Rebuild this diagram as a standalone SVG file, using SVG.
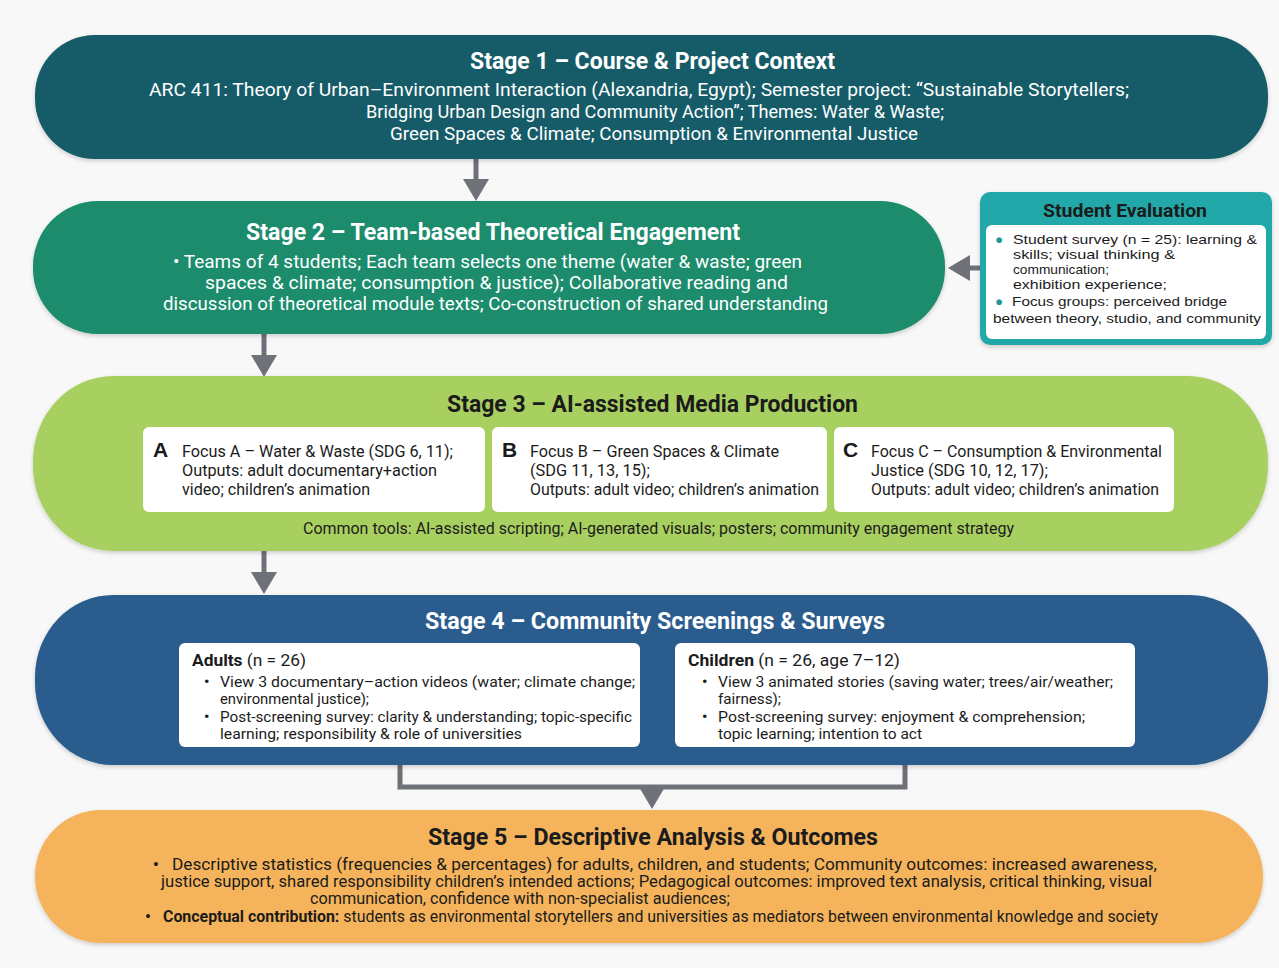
<svg xmlns="http://www.w3.org/2000/svg" width="1279" height="968" viewBox="0 0 1279 968">
  <defs>
    <style>
      .t { font-family: Roboto, "Liberation Sans", sans-serif; }
      .title { font-family: Roboto, "Liberation Sans", sans-serif; font-weight: 700; font-size: 23px; }
      .w { fill: #ffffff; }
      .d { fill: #1b1b1b; }
      .b1 { font-size: 19px; }
      .b2 { font-size: 19px; }
      .bx { font-size: 16px; }
      .b4 { font-size: 15px; }
      .b5 { font-size: 16px; }
      .ev { font-family: "Liberation Sans", Arial, sans-serif; font-size: 13.5px; fill: #1b1b1b; }
      .evb { font-family: "Liberation Sans", Arial, sans-serif; font-size: 13.5px; fill: #1f9a96; }
      .card { fill: #ffffff; }
      .conn { stroke: #6f7178; stroke-width: 5; fill: none; }
      .letter { font-family: "Liberation Sans", Arial, sans-serif; font-weight: 700; font-size: 21px; fill: #1b1b1b; }
    </style>
    <filter id="shadow" x="-5%" y="-10%" width="110%" height="130%">
      <feDropShadow dx="0" dy="2" stdDeviation="2" flood-color="#000" flood-opacity="0.18"/>
    </filter>
    <marker id="head" viewBox="0 0 22 26" refX="12" refY="13" markerWidth="22" markerHeight="26" markerUnits="userSpaceOnUse" orient="auto">
      <path d="M0,0 L22,13 L0,26 Z" fill="#6f7178"/>
    </marker>
  </defs>

  <rect width="1279" height="968" fill="#f8f8f8"/>

  <!-- connectors -->
  <g id="connectors">
    <line class="conn" x1="476" y1="159" x2="476" y2="191" marker-end="url(#head)"/>
    <line class="conn" x1="264" y1="334" x2="264" y2="367" marker-end="url(#head)"/>
    <line class="conn" x1="264" y1="551" x2="264" y2="584" marker-end="url(#head)"/>
    <line class="conn" x1="982" y1="268" x2="958" y2="268" marker-end="url(#head)"/>
    <path class="conn" d="M400,757 V787 H905 V757" stroke-width="4"/>
    <line class="conn" x1="652" y1="787" x2="652" y2="799" marker-end="url(#head)"/>
  </g>

  <!-- Stage 1 -->
  <g id="stage1">
    <rect x="35" y="35" width="1233" height="124" rx="60" ry="60" fill="#185c67" filter="url(#shadow)"/>
    <text class="title w" x="470" y="69" textLength="365" lengthAdjust="spacingAndGlyphs">Stage 1 – Course &amp; Project Context</text>
    <text class="t w b1" x="149" y="96" textLength="980" lengthAdjust="spacingAndGlyphs">ARC 411: Theory of Urban–Environment Interaction (Alexandria, Egypt); Semester project: “Sustainable Storytellers;</text>
    <text class="t w b1" x="366" y="118" textLength="578" lengthAdjust="spacingAndGlyphs">Bridging Urban Design and Community Action”; Themes: Water &amp; Waste;</text>
    <text class="t w b1" x="390" y="140" textLength="528" lengthAdjust="spacingAndGlyphs">Green Spaces &amp; Climate; Consumption &amp; Environmental Justice</text>
  </g>

  <!-- Stage 2 -->
  <g id="stage2">
    <rect x="33" y="201" width="912" height="133" rx="65" ry="65" fill="#1c8c6d" filter="url(#shadow)"/>
    <text class="title w" x="246" y="240" textLength="494" lengthAdjust="spacingAndGlyphs">Stage 2 – Team-based Theoretical Engagement</text>
    <text class="t w b2" x="173" y="268" textLength="629" lengthAdjust="spacingAndGlyphs">• Teams of 4 students; Each team selects one theme (water &amp; waste; green</text>
    <text class="t w b2" x="205" y="289" textLength="583" lengthAdjust="spacingAndGlyphs">spaces &amp; climate; consumption &amp; justice); Collaborative reading and</text>
    <text class="t w b2" x="163" y="310" textLength="665" lengthAdjust="spacingAndGlyphs">discussion of theoretical module texts; Co-construction of shared understanding</text>
  </g>

  <!-- Student Evaluation -->
  <g id="student-evaluation">
    <rect x="980" y="192" width="292" height="153" rx="10" ry="10" fill="#23a8a8" filter="url(#shadow)"/>
    <rect x="986" y="225" width="280" height="114" rx="6" ry="6" fill="#ffffff"/>
    <text class="title d" x="1043" y="217" style="font-size:19px" textLength="164" lengthAdjust="spacingAndGlyphs">Student Evaluation</text>
    <text class="evb" x="995" y="244">●</text>
    <text class="ev" x="1013" y="244" textLength="244" lengthAdjust="spacingAndGlyphs">Student survey (n = 25): learning &amp;</text>
    <text class="ev" x="1013" y="259" textLength="162" lengthAdjust="spacingAndGlyphs">skills; visual thinking &amp;</text>
    <text class="ev" x="1013" y="274" textLength="96" lengthAdjust="spacingAndGlyphs">communication;</text>
    <text class="ev" x="1013" y="289" textLength="154" lengthAdjust="spacingAndGlyphs">exhibition experience;</text>
    <text class="evb" x="995" y="306">●</text>
    <text class="ev" x="1012" y="306" textLength="215" lengthAdjust="spacingAndGlyphs">Focus groups: perceived bridge</text>
    <text class="ev" x="993" y="323" textLength="268" lengthAdjust="spacingAndGlyphs">between theory, studio, and community</text>
  </g>

  <!-- Stage 3 -->
  <g id="stage3">
    <rect x="33" y="376" width="1235" height="175" rx="80" ry="85" fill="#a8d060" filter="url(#shadow)"/>
    <text class="title d" x="447" y="412" textLength="411" lengthAdjust="spacingAndGlyphs">Stage 3 – AI-assisted Media Production</text>

    <g id="focus-a">
      <rect class="card" x="143" y="427" width="342" height="85" rx="6" ry="6"/>
      <text class="letter" x="153" y="457">A</text>
      <text class="t d bx" x="182" y="457" textLength="271" lengthAdjust="spacingAndGlyphs">Focus A – Water &amp; Waste (SDG 6, 11);</text>
      <text class="t d bx" x="182" y="476" textLength="255" lengthAdjust="spacingAndGlyphs">Outputs: adult documentary+action</text>
      <text class="t d bx" x="182" y="495" textLength="188" lengthAdjust="spacingAndGlyphs">video; children’s animation</text>
    </g>
    <g id="focus-b">
      <rect class="card" x="492" y="427" width="335" height="85" rx="6" ry="6"/>
      <text class="letter" x="502" y="457">B</text>
      <text class="t d bx" x="530" y="457" textLength="249" lengthAdjust="spacingAndGlyphs">Focus B – Green Spaces &amp; Climate</text>
      <text class="t d bx" x="530" y="476" textLength="120" lengthAdjust="spacingAndGlyphs">(SDG 11, 13, 15);</text>
      <text class="t d bx" x="530" y="495" textLength="289" lengthAdjust="spacingAndGlyphs">Outputs: adult video; children’s animation</text>
    </g>
    <g id="focus-c">
      <rect class="card" x="834" y="427" width="340" height="85" rx="6" ry="6"/>
      <text class="letter" x="843" y="457">C</text>
      <text class="t d bx" x="871" y="457" textLength="291" lengthAdjust="spacingAndGlyphs">Focus C – Consumption &amp; Environmental</text>
      <text class="t d bx" x="871" y="476" textLength="177" lengthAdjust="spacingAndGlyphs">Justice (SDG 10, 12, 17);</text>
      <text class="t d bx" x="871" y="495" textLength="288" lengthAdjust="spacingAndGlyphs">Outputs: adult video; children’s animation</text>
    </g>
    <text class="t d bx" x="303" y="534" textLength="711" lengthAdjust="spacingAndGlyphs">Common tools: AI-assisted scripting; AI-generated visuals; posters; community engagement strategy</text>
  </g>

  <!-- Stage 4 -->
  <g id="stage4">
    <rect x="35" y="595" width="1233" height="170" rx="78" ry="82" fill="#2b5c8e" filter="url(#shadow)"/>
    <text class="title w" x="425" y="629" textLength="460" lengthAdjust="spacingAndGlyphs">Stage 4 – Community Screenings &amp; Surveys</text>

    <g id="adults">
      <rect class="card" x="179" y="643" width="461" height="104" rx="6" ry="6"/>
      <text class="t d bx" x="192" y="666" textLength="114" lengthAdjust="spacingAndGlyphs"><tspan font-weight="700">Adults</tspan> (n = 26)</text>
      <text class="t d b4" x="204" y="687" font-weight="700">•</text>
      <text class="t d b4" x="220" y="687" textLength="415" lengthAdjust="spacingAndGlyphs">View 3 documentary–action videos (water; climate change;</text>
      <text class="t d b4" x="220" y="704" textLength="149" lengthAdjust="spacingAndGlyphs">environmental justice);</text>
      <text class="t d b4" x="204" y="722" font-weight="700">•</text>
      <text class="t d b4" x="220" y="722" textLength="412" lengthAdjust="spacingAndGlyphs">Post-screening survey: clarity &amp; understanding; topic-specific</text>
      <text class="t d b4" x="220" y="739" textLength="302" lengthAdjust="spacingAndGlyphs">learning; responsibility &amp; role of universities</text>
    </g>
    <g id="children">
      <rect class="card" x="675" y="643" width="460" height="104" rx="6" ry="6"/>
      <text class="t d bx" x="688" y="666" textLength="212" lengthAdjust="spacingAndGlyphs"><tspan font-weight="700">Children</tspan> (n = 26, age 7–12)</text>
      <text class="t d b4" x="702" y="687" font-weight="700">•</text>
      <text class="t d b4" x="718" y="687" textLength="395" lengthAdjust="spacingAndGlyphs">View 3 animated stories (saving water; trees/air/weather;</text>
      <text class="t d b4" x="718" y="704" textLength="63" lengthAdjust="spacingAndGlyphs">fairness);</text>
      <text class="t d b4" x="702" y="722" font-weight="700">•</text>
      <text class="t d b4" x="718" y="722" textLength="367" lengthAdjust="spacingAndGlyphs">Post-screening survey: enjoyment &amp; comprehension;</text>
      <text class="t d b4" x="718" y="739" textLength="204" lengthAdjust="spacingAndGlyphs">topic learning; intention to act</text>
    </g>
  </g>

  <!-- Stage 5 -->
  <g id="stage5">
    <rect x="35" y="810" width="1228" height="133" rx="66" ry="66" fill="#f5b45b" filter="url(#shadow)"/>
    <text class="title d" x="428" y="845" textLength="450" lengthAdjust="spacingAndGlyphs">Stage 5 – Descriptive Analysis &amp; Outcomes</text>
    <text class="t d b5" x="153" y="870" font-weight="700">•</text>
    <text class="t d b5" x="172" y="870" textLength="985" lengthAdjust="spacingAndGlyphs">Descriptive statistics (frequencies &amp; percentages) for adults, children, and students; Community outcomes: increased awareness,</text>
    <text class="t d b5" x="161" y="887" textLength="991" lengthAdjust="spacingAndGlyphs">justice support, shared responsibility children’s intended actions; Pedagogical outcomes: improved text analysis, critical thinking, visual</text>
    <text class="t d b5" x="310" y="904" textLength="420" lengthAdjust="spacingAndGlyphs">communication, confidence with non-specialist audiences;</text>
    <text class="t d b5" x="145" y="922" font-weight="700">•</text>
    <text class="t d b5" x="163" y="922" textLength="995" lengthAdjust="spacingAndGlyphs"><tspan font-weight="700">Conceptual contribution:</tspan> students as environmental storytellers and universities as mediators between environmental knowledge and society</text>
  </g>
</svg>
